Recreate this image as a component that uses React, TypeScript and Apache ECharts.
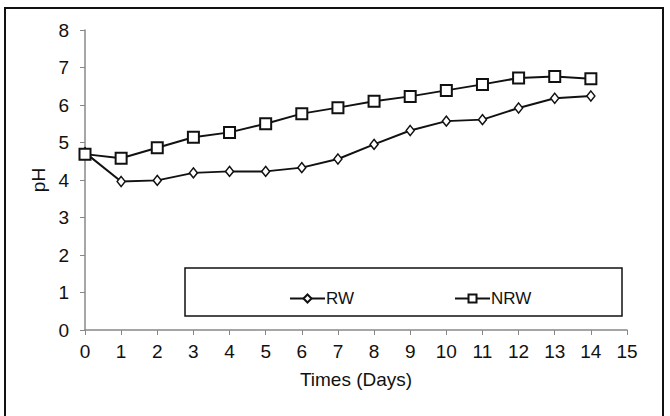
import React, { useEffect, useRef } from "react";
import * as echarts from "echarts";

const days = [0, 1, 2, 3, 4, 5, 6, 7, 8, 9, 10, 11, 12, 13, 14];
const rw = [4.73, 3.96, 3.99, 4.19, 4.23, 4.23, 4.33, 4.56, 4.95, 5.32, 5.57, 5.61, 5.92, 6.18, 6.24];
const nrw = [4.69, 4.58, 4.86, 5.14, 5.27, 5.5, 5.77, 5.93, 6.1, 6.23, 6.39, 6.55, 6.72, 6.76, 6.7];

const FONT = "Liberation Sans";
const FS = 19;

export default function App() {
  const ref = useRef<HTMLDivElement>(null);
  useEffect(() => {
    const chart = echarts.init(ref.current!, null, { renderer: "svg" });
    chart.setOption({
      animation: false,
      backgroundColor: "#ffffff",
      textStyle: { fontFamily: FONT },
      grid: { left: 85, right: 43, top: 30, bottom: 86 },
      xAxis: {
        type: "value",
        min: 0,
        max: 15,
        interval: 1,
        name: "Times (Days)",
        nameLocation: "middle",
        nameGap: 40,
        nameTextStyle: { fontSize: FS, color: "#111111", fontFamily: FONT },
        axisLine: { lineStyle: { color: "#888888", width: 1.5 } },
        axisTick: { show: true, length: 5, lineStyle: { color: "#888888" } },
        axisLabel: { fontSize: FS, color: "#111111", margin: 12, fontFamily: FONT },
        splitLine: { show: false },
      },
      yAxis: {
        type: "value",
        min: 0,
        max: 8,
        interval: 1,
        name: "pH",
        nameLocation: "middle",
        nameGap: 30,
        nameTextStyle: { fontSize: FS, color: "#111111", fontFamily: FONT },
        axisLine: { show: true, lineStyle: { color: "#888888", width: 1.5 } },
        axisTick: { show: true, length: 5, lineStyle: { color: "#888888" } },
        axisLabel: { fontSize: FS, color: "#111111", margin: 16, fontFamily: FONT },
        splitLine: { show: false },
      },
      legend: {
        data: ["RW", "NRW"],
        left: 284,
        top: 285,
        itemWidth: 35,
        itemHeight: 10,
        itemGap: 100,
        textStyle: { fontSize: 17, color: "#111111", fontFamily: FONT, padding: [0, 0, 0, -4] },
      },
      graphic: [
        {
          type: "rect",
          shape: { x: 185, y: 268, width: 437, height: 48 },
          style: { fill: "#ffffff", stroke: "#111111", lineWidth: 1.5 },
          z: -1,
          silent: true,
        },
        {
          type: "rect",
          shape: { x: 5, y: 8, width: 658, height: 420 },
          style: { fill: "none", stroke: "#111111", lineWidth: 2 },
          silent: true,
        },
      ],
      series: [
        {
          name: "RW",
          type: "line",
          data: days.map((d, i) => [d, rw[i]]),
          symbol: "diamond",
          symbolSize: [8, 10],
          showAllSymbol: true,
          lineStyle: { color: "#111111", width: 2 },
          itemStyle: { color: "#ffffff", borderColor: "#111111", borderWidth: 1.5 },
          z: 2,
        },
        {
          name: "NRW",
          type: "line",
          data: days.map((d, i) => [d, nrw[i]]),
          symbol: "rect",
          symbolSize: 11,
          showAllSymbol: true,
          lineStyle: { color: "#111111", width: 2 },
          itemStyle: { color: "#ffffff", borderColor: "#111111", borderWidth: 2 },
          z: 3,
        },
      ],
    });
    return () => chart.dispose();
  }, []);
  return (
    <div
      ref={ref}
      style={{ position: "fixed", left: 0, top: 0, width: 670, height: 416 }}
    />
  );
}
